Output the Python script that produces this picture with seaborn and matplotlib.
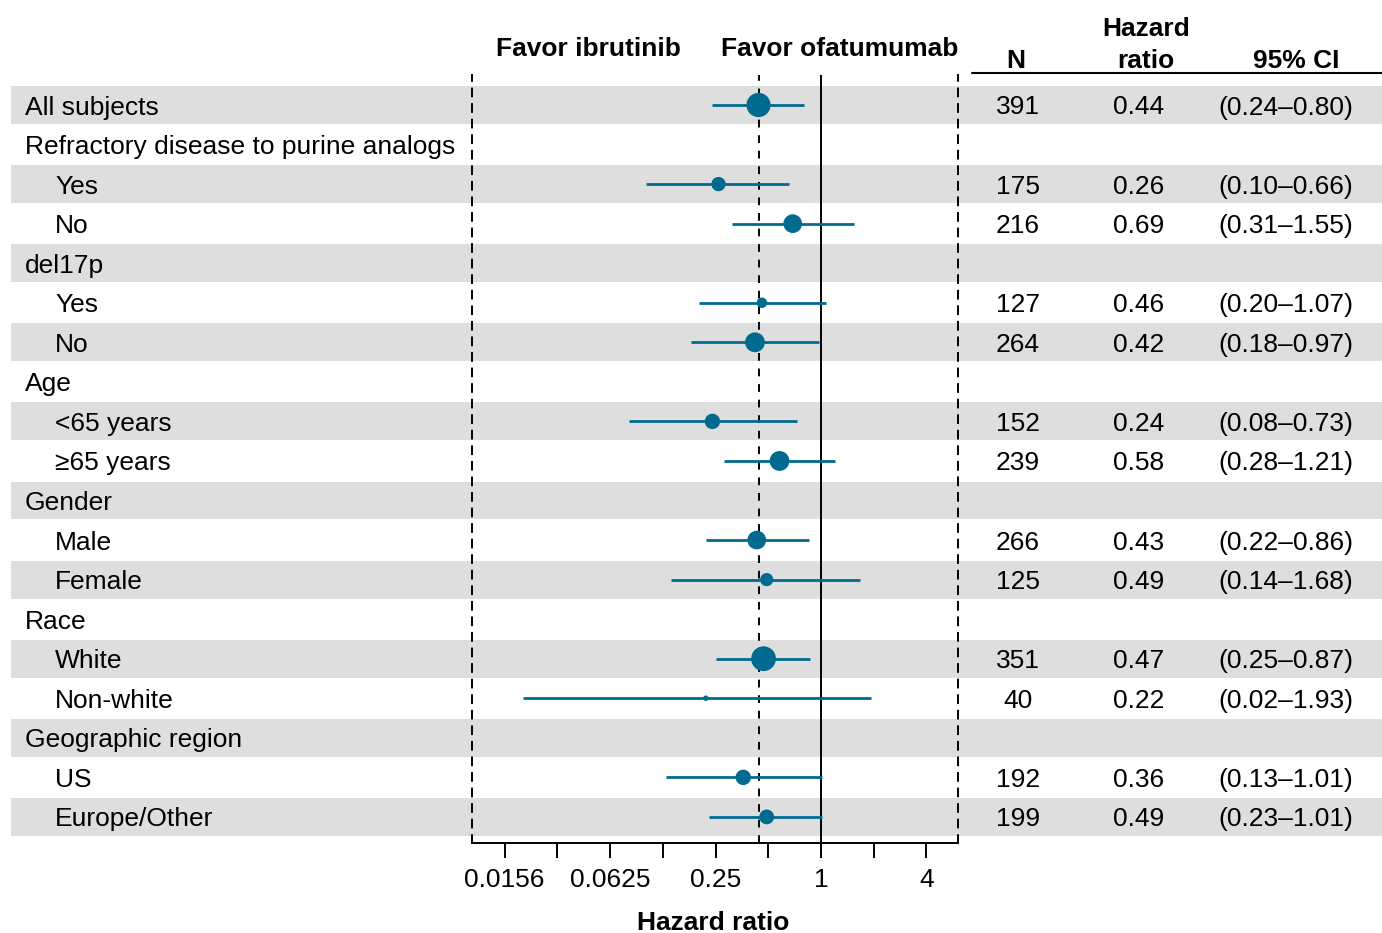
import numpy as np
import pandas as pd
import matplotlib
matplotlib.use('Agg')
import matplotlib.pyplot as plt
import matplotlib.transforms as mtransforms
import seaborn as sb

# forest plot data
labels = ['All subjects', 'Refractory disease to purine analogs', 'Yes', 'No',
          'del17p', 'Yes', 'No', 'Age', '<65 years', '\u226565 years',
          'Gender', 'Male', 'Female', 'Race', 'White', 'Non-white',
          'Geographic region', 'US', 'Europe/Other']
indent = [0, 0, 1, 1, 0, 1, 1, 0, 1, 1, 0, 1, 1, 0, 1, 1, 0, 1, 1]
n_subj = [391, None, 175, 216, None, 127, 264, None, 152, 239, None, 266, 125,
          None, 351, 40, None, 192, 199]
hr = [0.44, None, 0.26, 0.69, None, 0.46, 0.42, None, 0.24, 0.58, None, 0.43, 0.49,
      None, 0.47, 0.22, None, 0.36, 0.49]
ci_lo = [0.24, None, 0.10, 0.31, None, 0.20, 0.18, None, 0.08, 0.28, None, 0.22, 0.14,
         None, 0.25, 0.02, None, 0.13, 0.23]
ci_hi = [0.80, None, 0.66, 1.55, None, 1.07, 0.97, None, 0.73, 1.21, None, 0.86, 1.68,
         None, 0.87, 1.93, None, 1.01, 1.01]
# dot diameter (px), stands for the study weight
dot_px = [22, None, 13, 17, None, 9.5, 18, None, 14, 18, None, 17, 12,
          None, 22.5, 5, None, 14, 13.5]
tick_vals = [2.0**k for k in range(-6, 3)]
tick_text = ['0.0156', '', '0.0625', '', '0.25', '', '1', '', '4']

df = pd.DataFrame({'label': labels, 'indent': indent, 'N': n_subj, 'hr': hr,
                   'lo': ci_lo, 'hi': ci_hi, 'd': dot_px})
df['row'] = np.arange(len(df))
pts = df.dropna(subset=['hr']).copy()
pts['area'] = (pts['d'] * 0.72 * 1.1) ** 2

sb.set_style('white')
plt.rcParams['font.family'] = ['Liberation Sans', 'DejaVu Sans']
plt.rcParams['text.color'] = 'black'
plt.rcParams['xtick.color'] = 'black'
FS = 19
col = '#006B8E'

W, H = 1382, 933
fig = plt.figure(figsize=(W / 100, H / 100), dpi=100)
ax = fig.add_axes([472 / W, 90 / H, (958 - 472) / W, (858 - 90) / H])

step = 39.55
ax.set_xscale('log', base=2)
ax.set_xlim(2**-6.62, 2**2.6)
ax.set_ylim((843 - 105) / step, (75 - 105) / step)

# grey bands across the whole width
band_tr = mtransforms.blended_transform_factory(fig.transFigure, ax.transData)
for i in range(0, len(df), 2):
    r = plt.Rectangle((11 / W, i - 0.48), 1 - 11 / W, 0.96, transform=band_tr,
                      facecolor='#DEDEDE', edgecolor='none', clip_on=False, zorder=0)
    fig.add_artist(r)

ax.patch.set_alpha(0)
ax.axvline(1, color='black', lw=1.4, zorder=2)
ax.axvline(0.44, color='black', lw=1.4, ls=(0, (4, 4)), zorder=2)

ax.hlines(pts['row'], pts['lo'], pts['hi'], color=col, lw=2, zorder=3)
sb.scatterplot(data=pts, x='hr', y='row', size='area',
               sizes=(pts['area'].min(), pts['area'].max()), color=col,
               edgecolor='none', legend=False, ax=ax, zorder=4)

for s in ['left', 'right']:
    ax.spines[s].set_linestyle((0, (4, 4)))
    ax.spines[s].set_linewidth(1.4)
    ax.spines[s].set_color('black')
ax.spines['top'].set_visible(False)
ax.spines['bottom'].set_linewidth(1.4)
ax.spines['bottom'].set_color('black')
ax.set_yticks([])
ax.set_xticks(tick_vals)
ax.set_xticklabels(tick_text)
ax.minorticks_off()
ax.tick_params(axis='x', length=11, width=1.4, direction='out', bottom=True,
               labelsize=FS, pad=7, colors='black')
ax.set_xlabel('')
ax.set_ylabel('')

# table text
txt_tr = mtransforms.blended_transform_factory(fig.transFigure, ax.transData)
for _, r in df.iterrows():
    x0 = 25 if r['indent'] == 0 else 55
    ax.text(x0 / W, r['row'], r['label'], transform=txt_tr, fontsize=FS,
            va='center_baseline', ha='left', clip_on=False)
    if pd.notna(r['hr']):
        ax.text(1018 / W, r['row'], '%d' % r['N'], transform=txt_tr, fontsize=FS,
                va='center_baseline', ha='center')
        ax.text(1139 / W, r['row'], '%.2f' % r['hr'], transform=txt_tr, fontsize=FS,
                va='center_baseline', ha='center')
        ax.text(1286 / W, r['row'], '(%.2f\u2013%.2f)' % (r['lo'], r['hi']),
                transform=txt_tr, fontsize=FS, va='center_baseline', ha='center')

# headers
def ftext(x, y, s, **kw):
    fig.text(x / W, 1 - y / H, s, fontsize=FS, fontweight='bold', ha='center',
             va='center_baseline', **kw)

ftext(588, 46, 'Favor ibrutinib')
ftext(840, 46, 'Favor ofatumumab')
ftext(1016, 58, 'N')
ftext(1146, 26, 'Hazard')
ftext(1146, 59, 'ratio')
ftext(1296, 58, '95% CI')
ftext(713, 921, 'Hazard ratio')
fig.add_artist(plt.Line2D([972 / W, 1], [1 - 73 / H, 1 - 73 / H], color='black', lw=1.5))

fig.savefig('out.png', dpi=100)
